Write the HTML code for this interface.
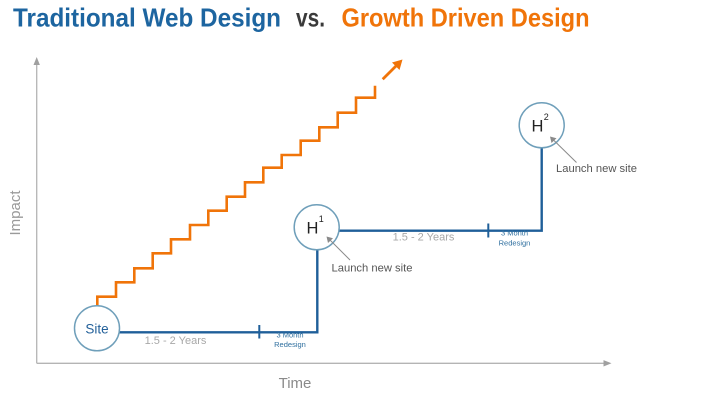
<!DOCTYPE html>
<html>
<head>
<meta charset="utf-8">
<style>
html,body{margin:0;padding:0;background:#fff;}
svg{display:block;}
text{font-family:"Liberation Sans",sans-serif;}
</style>
</head>
<body>
<svg width="722" height="400" viewBox="0 0 722 400" xmlns="http://www.w3.org/2000/svg">
  <rect width="722" height="400" fill="#fff"/>
  <!-- Title -->
  <text x="13" y="26.5" font-size="26" font-weight="bold" fill="#1d65a0" textLength="268" lengthAdjust="spacingAndGlyphs">Traditional Web Design</text>
  <text x="296" y="26.5" font-size="26" font-weight="bold" fill="#3a3a3a" textLength="29" lengthAdjust="spacingAndGlyphs">vs.</text>
  <text x="341.5" y="26.5" font-size="26" font-weight="bold" fill="#f07409" textLength="248" lengthAdjust="spacingAndGlyphs">Growth Driven Design</text>

  <!-- Axes -->
  <line x1="36.7" y1="363.3" x2="36.7" y2="64" stroke="#b4b4b4" stroke-width="1.3"/>
  <polygon points="36.7,57 33.5,65 39.9,65" fill="#a0a0a0"/>
  <line x1="36.7" y1="363.3" x2="605" y2="363.3" stroke="#b4b4b4" stroke-width="1.3"/>
  <polygon points="611.5,363.3 603.5,360.1 603.5,366.5" fill="#a0a0a0"/>
  <text x="295" y="388" font-size="15" fill="#8a8a8a" text-anchor="middle">Time</text>
  <text transform="translate(20,213) rotate(-90)" font-size="15" fill="#9a9a9a" text-anchor="middle">Impact</text>

  <!-- Orange staircase -->
  <path d="M97.3 305.5 V296.7 H116 V282.3 H134.3 V268.3 H152.7 V253.3 H171 V239.3 H190 V225 H208.3 V210.7 H226.7 V196.7 H245 V182.3 H263.3 V167.7 H281.7 V155 H300.7 V140.7 H319.3 V127.3 H337.7 V112.7 H356 V97.7 H375 V85.7" fill="none" stroke="#f07409" stroke-width="2.6" stroke-linejoin="miter"/>
  <line x1="382.7" y1="79.3" x2="396" y2="66" stroke="#f07409" stroke-width="2.8"/>
  <polygon points="402.5,59.5 392,62.5 399.5,70" fill="#f07409"/>

  <!-- Blue path -->
  <path d="M119.5 332.3 H317.3 V250" fill="none" stroke="#1f5f99" stroke-width="2.4"/>
  <line x1="259.3" y1="325" x2="259.3" y2="338.5" stroke="#1f5f99" stroke-width="2"/>
  <path d="M339.5 230.7 H541.7 V147.5" fill="none" stroke="#1f5f99" stroke-width="2.4"/>
  <line x1="488.3" y1="223.5" x2="488.3" y2="237.5" stroke="#1f5f99" stroke-width="2"/>

  <!-- Circles -->
  <circle cx="97" cy="328.3" r="22.5" fill="#fff" stroke="#6f9fba" stroke-width="1.5"/>
  <text x="97" y="333.3" font-size="13.5" fill="#24619a" text-anchor="middle">Site</text>

  <circle cx="316.7" cy="227.3" r="22.5" fill="#fff" stroke="#6f9fba" stroke-width="1.5"/>
  <text x="306.5" y="233.5" font-size="16.5" fill="#222">H</text>
  <text x="318.8" y="222" font-size="9" fill="#222">1</text>

  <circle cx="541.7" cy="125.3" r="22.5" fill="#fff" stroke="#6f9fba" stroke-width="1.5"/>
  <text x="531.5" y="131.5" font-size="16.5" fill="#222">H</text>
  <text x="543.8" y="120" font-size="9" fill="#222">2</text>

  <!-- Labels -->
  <text x="175.5" y="344" font-size="11" fill="#a8a8a8" text-anchor="middle">1.5 - 2 Years</text>
  <text x="290" y="337.5" font-size="7.5" fill="#2f6f9f" text-anchor="middle">3 Month</text>
  <text x="290" y="347" font-size="7.5" fill="#2f6f9f" text-anchor="middle">Redesign</text>

  <text x="423.5" y="240.5" font-size="11" fill="#a8a8a8" text-anchor="middle">1.5 - 2 Years</text>
  <text x="514.5" y="235.5" font-size="7.5" fill="#2f6f9f" text-anchor="middle">3 Month</text>
  <text x="514.5" y="245.5" font-size="7.5" fill="#2f6f9f" text-anchor="middle">Redesign</text>

  <!-- Launch new site annotations -->
  <line x1="350" y1="260" x2="330" y2="240" stroke="#8a8a8a" stroke-width="1"/>
  <polygon points="326.5,236.5 328,243 333,238.2" fill="#8a8a8a"/>
  <text x="331.5" y="271.5" font-size="11" fill="#555" textLength="81" lengthAdjust="spacingAndGlyphs">Launch new site</text>

  <line x1="576.5" y1="162.5" x2="553.5" y2="140" stroke="#8a8a8a" stroke-width="1"/>
  <polygon points="550,136.5 551.5,143 556.5,138.2" fill="#8a8a8a"/>
  <text x="556" y="172" font-size="11" fill="#555" textLength="81" lengthAdjust="spacingAndGlyphs">Launch new site</text>
</svg>
</body>
</html>
